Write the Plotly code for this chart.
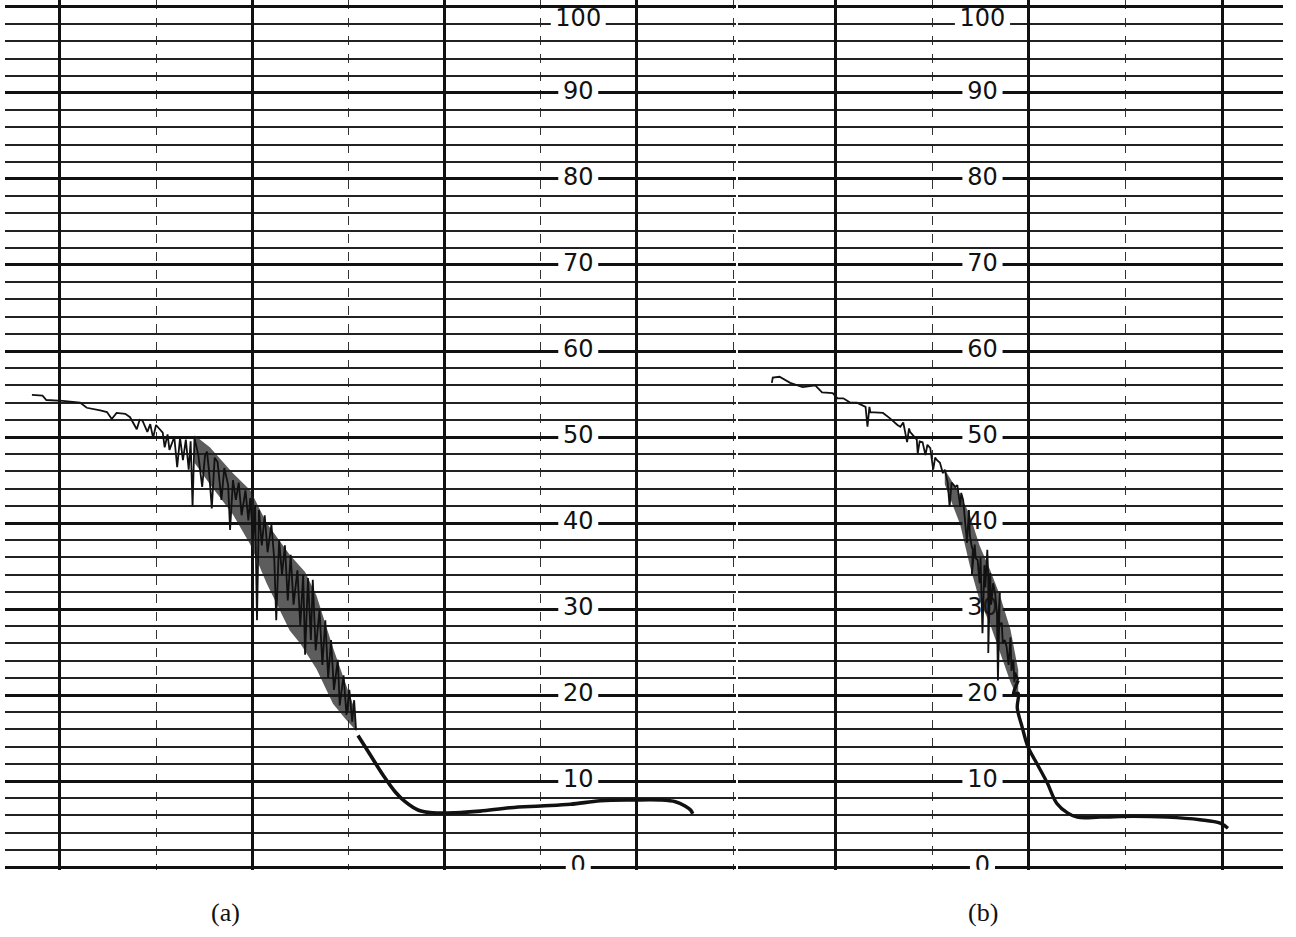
import plotly.graph_objects as go

# ---- Chart-recorder traces (x in chart divisions, y in % of full scale) ----

# Trace (a): noisy descent followed by a smooth tail
a_noisy_x = [-0.29, -0.18, -0.14, 0.03, 0.21, 0.28, 0.42, 0.49, 0.54, 0.59, 0.68, 0.73,
             0.80, 0.83, 0.86, 0.91, 0.94, 0.97, 1.00, 1.07, 1.09, 1.12, 1.14, 1.19,
             1.22, 1.25, 1.28, 1.31, 1.34, 1.36, 1.38, 1.40, 1.44, 1.48, 1.51, 1.53,
             1.55, 1.58, 1.61, 1.64, 1.68, 1.71, 1.75, 1.77, 1.80, 1.83, 1.86, 1.89,
             1.93, 1.96, 1.98, 2.01, 2.03, 2.05, 2.07, 2.10, 2.13, 2.16, 2.20, 2.23,
             2.25, 2.28, 2.31, 2.34, 2.37, 2.40, 2.43, 2.47, 2.50, 2.53, 2.55, 2.58,
             2.61, 2.63, 2.66, 2.70, 2.73, 2.76, 2.79, 2.82, 2.85, 2.89, 2.91, 2.95,
             2.98, 3.01, 3.04, 3.06, 3.08]
a_noisy_y = [54.9, 54.8, 54.3, 54.2, 54.0, 53.4, 53.1, 52.9, 52.1, 52.8, 52.7, 52.3,
             50.9, 52.0, 51.9, 50.6, 51.5, 49.9, 51.4, 50.5, 48.8, 50.3, 48.5, 50.0,
             46.5, 49.9, 47.3, 49.7, 46.2, 49.5, 41.9, 49.9, 47.9, 44.2, 47.9, 48.3,
             46.2, 41.7, 47.6, 47.1, 42.7, 46.4, 44.4, 39.2, 45.0, 42.7, 44.7, 40.9,
             43.8, 40.3, 42.9, 38.0, 42.1, 28.7, 41.5, 37.4, 40.9, 36.6, 39.8, 35.7,
             28.7, 38.0, 34.0, 37.4, 31.0, 36.3, 30.5, 34.5, 28.1, 34.0, 24.7, 33.6,
             26.4, 33.4, 25.2, 29.9, 23.5, 28.7, 22.0, 26.4, 20.6, 24.1, 18.8, 22.3,
             17.7, 20.6, 16.9, 19.4, 15.9]

# Outline of the densely inked band of trace (a)
a_band_x = [1.40, 1.56, 1.80, 1.98, 2.15, 2.39, 2.55, 2.67, 2.84, 2.97, 3.07,
            3.07, 2.97, 2.84, 2.67, 2.50, 2.39, 2.15, 1.98, 1.80, 1.56, 1.40]
a_band_y = [50.2, 48.8, 45.8, 43.8, 40.0, 36.3, 34.3, 31.5, 25.5, 21.3, 18.2,
            16.0, 17.2, 19.0, 23.0, 26.0, 27.5, 33.0, 37.5, 41.0, 44.5, 47.0]

a_tail_x = [3.10, 3.23, 3.36, 3.49, 3.59, 3.73, 3.88, 4.11, 4.37, 4.68, 5.00, 5.31,
            5.62, 5.96, 6.24, 6.40, 6.50, 6.56, 6.58]
a_tail_y = [15.3, 13.0, 10.7, 8.7, 7.6, 6.6, 6.3, 6.3, 6.5, 6.9, 7.1, 7.3,
            7.7, 7.8, 7.8, 7.6, 7.1, 6.6, 6.2]

# Trace (b): later start, steeper noisy descent, flat tail
b_x = [1.34, 1.35, 1.42, 1.48, 1.53, 1.66, 1.79, 1.86, 1.97, 2.02, 2.08, 2.15,
       2.22, 2.31, 2.33, 2.35, 2.36, 2.49, 2.56, 2.64, 2.67, 2.70, 2.74, 2.76,
       2.77, 2.84, 2.85, 2.87, 2.90, 2.93, 2.95, 2.98, 3.01, 3.03, 3.05, 3.08,
       3.11, 3.13, 3.16, 3.18, 3.20, 3.24, 3.26, 3.29, 3.30, 3.32, 3.34, 3.36,
       3.38, 3.39, 3.41, 3.42, 3.41, 3.44, 3.45, 3.47, 3.49, 3.50, 3.52, 3.54,
       3.55, 3.57, 3.58, 3.58, 3.60, 3.61, 3.62, 3.63, 3.65, 3.67, 3.68, 3.70,
       3.68, 3.72, 3.73, 3.75, 3.77, 3.79, 3.81, 3.82, 3.84, 3.85, 3.86, 3.89,
       3.84, 3.89, 3.88, 3.93, 3.99, 4.08, 4.19, 4.29, 4.40, 4.50, 4.74, 5.08,
       5.43, 5.77, 5.98, 6.06]
b_y = [56.3, 56.9, 57.0, 56.6, 56.3, 55.8, 56.0, 55.2, 55.1, 54.5, 54.5, 54.0,
       54.0, 53.5, 51.2, 53.5, 52.9, 52.8, 52.2, 51.4, 51.2, 51.7, 49.4, 51.0,
       50.6, 49.7, 48.1, 49.5, 49.4, 47.9, 49.1, 48.7, 46.2, 47.6, 47.3, 47.0,
       45.8, 46.2, 44.7, 41.9, 44.7, 44.2, 44.4, 41.9, 43.5, 42.7, 40.3, 37.7,
       41.5, 38.5, 37.2, 36.9, 34.0, 37.5, 35.9, 35.7, 33.0, 36.0, 27.2, 35.1,
       32.5, 36.9, 33.6, 24.9, 34.2, 30.5, 31.6, 33.0, 31.9, 29.5, 21.7, 31.9,
       28.0, 28.4, 26.0, 26.4, 25.6, 23.5, 26.7, 22.8, 24.1, 21.5, 22.6, 21.7,
       20.0, 20.2, 18.5, 16.3, 14.0, 12.1, 9.8, 7.4, 6.3, 5.8, 5.8, 5.9,
       5.8, 5.5, 5.1, 4.5]

# Outline of the densely inked band of trace (b)
b_band_x = [3.13, 3.29, 3.39, 3.49, 3.60, 3.70, 3.81, 3.89,
            3.89, 3.81, 3.70, 3.60, 3.49, 3.39, 3.29, 3.13]
b_band_y = [46.2, 43.3, 40.9, 37.4, 34.5, 31.6, 27.6, 22.9,
            19.5, 21.5, 25.0, 28.2, 31.0, 35.0, 39.8, 44.5]

# Scale labels printed on the chart paper
scale_values = [0, 10, 20, 30, 40, 50, 60, 70, 80, 90, 100]
scale_text = [str(v) for v in scale_values]
label_x_a = 5.39
label_x_b = 3.52
panel_captions = ["(a)", "(b)"]

INK = "#111111"
W, H = 1296, 937

fig = go.Figure()

# Scale labels (drawn first so the pen traces pass over them)
label_y = [v - 1.5 if v == 100 else v for v in scale_values]
for xa, lx in (("x", label_x_a), ("x2", label_x_b)):
    fig.add_trace(go.Scatter(
        x=[lx] * len(scale_values), y=label_y, text=scale_text, mode="text",
        textfont=dict(family="DejaVu Sans", size=24, color=INK),
        xaxis=xa, yaxis="y", hoverinfo="skip", showlegend=False))

# White paper gaps behind each label, sitting above the grid but below traces
shapes = []
for xref, lx in (("x", label_x_a), ("x2", label_x_b)):
    for v, ly, t in zip(scale_values, label_y, scale_text):
        half_w = (len(t) * 15 + 10) / 2 / 96.3
        shapes.append(dict(type="rect", xref=xref, yref="y", layer="between",
                           x0=lx - half_w, x1=lx + half_w, y0=ly - 1.05, y1=ly + 1.05,
                           fillcolor="white", line=dict(width=0)))

band_fill = "rgba(30,30,30,0.72)"
pen = dict(color=INK, width=1.8)

fig.add_trace(go.Scatter(x=a_band_x, y=a_band_y, mode="lines", fill="toself",
                         fillcolor=band_fill, line=dict(width=0),
                         xaxis="x", yaxis="y", showlegend=False, hoverinfo="skip"))
fig.add_trace(go.Scatter(x=a_noisy_x, y=a_noisy_y, mode="lines", line=pen,
                         xaxis="x", yaxis="y", showlegend=False))
fig.add_trace(go.Scatter(x=a_tail_x, y=a_tail_y, mode="lines",
                         line=dict(color=INK, width=3.6, shape="spline"),
                         xaxis="x", yaxis="y", showlegend=False))

fig.add_trace(go.Scatter(x=b_band_x, y=b_band_y, mode="lines", fill="toself",
                         fillcolor=band_fill, line=dict(width=0),
                         xaxis="x2", yaxis="y", showlegend=False, hoverinfo="skip"))
fig.add_trace(go.Scatter(x=b_x[:84], y=b_y[:84], mode="lines", line=pen,
                         xaxis="x2", yaxis="y", showlegend=False))
fig.add_trace(go.Scatter(x=b_x[83:], y=b_y[83:], mode="lines",
                         line=dict(color=INK, width=3.4, shape="spline"),
                         xaxis="x2", yaxis="y", showlegend=False))

grid_x = dict(showgrid=True, gridcolor=INK, gridwidth=2.8, dtick=2, tick0=0,
              zeroline=False, showticklabels=False, ticks="", showline=False,
              minor=dict(dtick=1, tick0=0, showgrid=True, gridcolor="#333333",
                         gridwidth=1.2, griddash="dash"))
grid_y = dict(showgrid=True, gridcolor=INK, gridwidth=2.8, dtick=10, tick0=0,
              zeroline=False, showticklabels=False, ticks="", showline=False,
              minor=dict(dtick=2, tick0=0, showgrid=True, gridcolor="#222222",
                         gridwidth=1.6))

caption_font = dict(family="Liberation Serif", size=26, color=INK)

fig.update_layout(
    width=W, height=H, margin=dict(l=0, r=0, t=0, b=0),
    paper_bgcolor="white", plot_bgcolor="white",
    xaxis=dict(domain=[5 / W, 736 / W], range=[-0.57, 7.03], **grid_x),
    xaxis2=dict(domain=[738 / W, 1283 / W], range=[0.99, 6.63], **grid_x),
    yaxis=dict(domain=[0.0719, 0.9999], range=[-0.3, 100.8], **grid_y),
    shapes=shapes,
    annotations=[
        dict(text=panel_captions[0], x=225 / W, y=1 - 912 / H, xref="paper", yref="paper",
             xanchor="center", yanchor="middle", showarrow=False, font=caption_font),
        dict(text=panel_captions[1], x=983 / W, y=1 - 912 / H, xref="paper", yref="paper",
             xanchor="center", yanchor="middle", showarrow=False, font=caption_font),
    ],
)

fig.write_html("out.html")
